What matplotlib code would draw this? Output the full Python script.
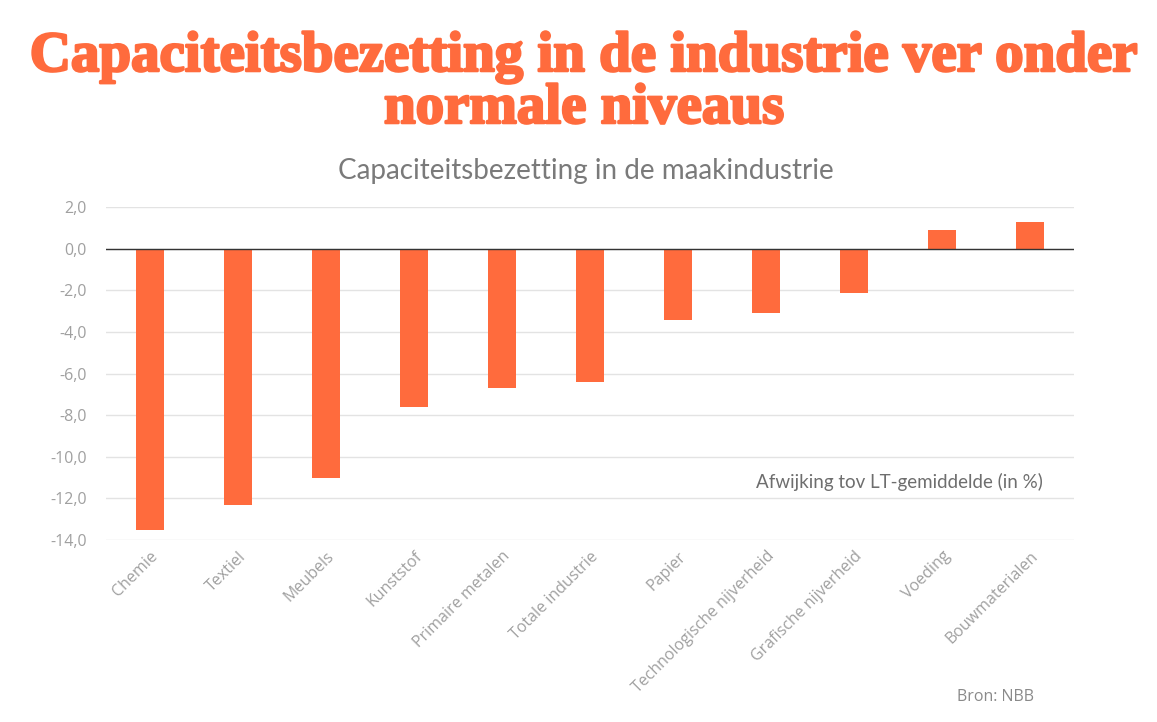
import numpy as np
import matplotlib.pyplot as plt
import matplotlib.patheffects as pe

categories = ["Chemie", "Textiel", "Meubels", "Kunststof", "Primaire metalen",
              "Totale industrie", "Papier", "Technologische nijverheid",
              "Grafische nijverheid", "Voeding", "Bouwmaterialen"]
values = [-13.5, -12.3, -11.0, -7.6, -6.7, -6.4, -3.4, -3.1, -2.1, 0.9, 1.3]
yticks = [2, 0, -2, -4, -6, -8, -10, -12, -14]

orange = "#ff6b3d"
grey = "#a0a0a0"

fig = plt.figure(figsize=(11.57, 7.22), dpi=100)
ax = fig.add_axes([0.0916, 0.252, 0.8366, 0.461])

x = np.arange(len(categories))
ax.bar(x, values, width=0.32, color=orange, zorder=3)
ax.axhline(0, color="#333333", lw=1, zorder=4)

ax.set_xlim(-0.5, len(categories) - 0.5)
ax.set_ylim(-14, 2)
ax.set_yticks(yticks)
ax.set_yticklabels([("%.1f" % v).replace(".", ",") for v in yticks],
                   fontsize=11.5, color=grey, family="Open Sans")
ax.yaxis.grid(True, color="#e3e3e3", lw=1, zorder=0)
ax.tick_params(axis="y", length=0, pad=14)
ax.tick_params(axis="x", length=0, pad=6)
ax.set_xticks(x)
ax.set_xticklabels(categories, rotation=45, ha="right", rotation_mode="anchor",
                   fontsize=11.5, color=grey, family="Open Sans")
for s in ax.spines.values():
    s.set_visible(False)

fig.text(0.505, 0.885, "Capaciteitsbezetting in de industrie ver onder\nnormale niveaus",
         ha="center", va="center", fontsize=41, fontweight="bold",
         family="Liberation Serif", color=orange, linespacing=1.0,
         path_effects=[pe.withStroke(linewidth=1.8, foreground=orange)])
fig.text(0.506, 0.763, "Capaciteitsbezetting in de maakindustrie",
         ha="center", va="center", fontsize=20, family="Lato", color="#7a7a7a")
ax.text(0.968, 0.174, "Afwijking tov LT-gemiddelde (in %)", transform=ax.transAxes,
        ha="right", va="center", fontsize=13.5, family="Lato", color="#6e6e6e")
fig.text(0.894, 0.035, "Bron: NBB", ha="right", va="center", fontsize=11.5,
         family="Open Sans", color="#8a8a8a")

fig.savefig("out.png", dpi=100)
